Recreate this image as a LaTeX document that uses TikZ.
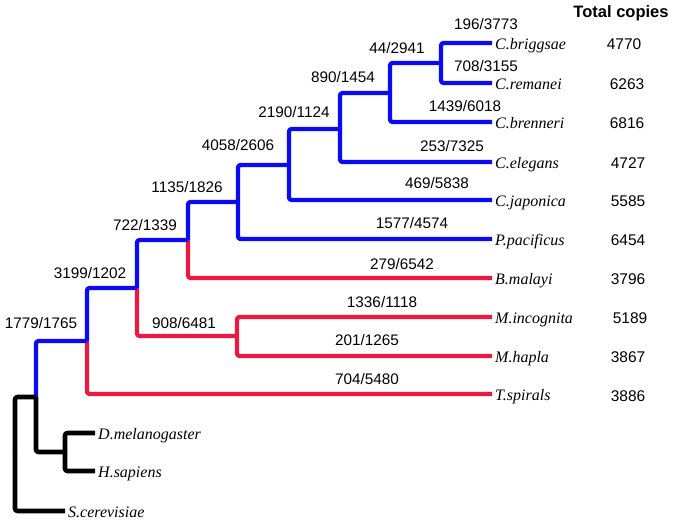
\documentclass[tikz,border=0pt]{standalone}
\usepackage{fontspec}
\newfontfamily\lsans{Liberation Sans}
\newfontfamily\lserif{Liberation Serif}
\definecolor{treeblue}{RGB}{10,10,245}
\definecolor{treered}{RGB}{235,25,65}
\definecolor{treeblack}{RGB}{0,0,0}
\tikzset{
  br/.style={line width=4.2pt, line join=round, rounded corners=2.5pt},
  bl/.style={br, draw=treeblue},
  rd/.style={br, draw=treered},
  bk/.style={br, draw=treeblack, line width=4.6pt},
  leaf/.style={anchor=base west, inner sep=0pt, font=\lserif\itshape\fontsize{16}{18}\selectfont},
  blab/.style={anchor=base, inner sep=0pt, font=\lsans\fontsize{15.3}{17}\selectfont},
  tot/.style={anchor=base, inner sep=0pt, font=\lsans\fontsize{15.5}{17}\selectfont},
  head/.style={anchor=base, inner sep=0pt, font=\lsans\bfseries\fontsize{16.5}{18}\selectfont}
}
\begin{document}
\begin{tikzpicture}[x=1pt,y=-1pt]
\useasboundingbox (0,0) rectangle (675,522);
% leaf ends
\coordinate (bri) at (492,43);
\coordinate (rem) at (492,83);
\coordinate (bren) at (492,122);
\coordinate (ele) at (492,162);
\coordinate (jap) at (492,200);
\coordinate (pac) at (492,239);
\coordinate (mal) at (492,278);
\coordinate (inc) at (492,317);
\coordinate (hap) at (492,356);
\coordinate (spi) at (492,394);
\coordinate (dmel) at (95,433);
\coordinate (hsap) at (95,471);
\coordinate (scer) at (65,511);
% internal nodes
\coordinate (n1) at (441,63);
\coordinate (n2) at (390,93);
\coordinate (n3) at (340,129);
\coordinate (n4) at (289,165);
\coordinate (n5) at (238,202);
\coordinate (n6) at (188,240);
\coordinate (m) at (237,336);
\coordinate (n7) at (137,288);
\coordinate (n8) at (87,341);
\coordinate (v) at (65,452);
\coordinate (n9) at (36,397);
\coordinate (root) at (15,454);
% branches
\draw[bl] (n1) |- (bri);
\draw[bl] (n1) |- (rem);
\draw[bl] (n2) |- (n1);
\draw[bl] (n2) |- (bren);
\draw[bl] (n3) |- (n2);
\draw[bl] (n3) |- (ele);
\draw[bl] (n4) |- (n3);
\draw[bl] (n4) |- (jap);
\draw[bl] (n5) |- (n4);
\draw[bl] (n5) |- (pac);
\draw[bl] (n6) |- (n5);
\draw[rd] (n6) |- (mal);
\draw[rd] (m) |- (inc);
\draw[rd] (m) |- (hap);
\draw[bl] (n7) |- (n6);
\draw[rd] (n7) |- (m);
\draw[bl] (n8) |- (n7);
\draw[rd] (n8) |- (spi);
\draw[bk] (v) |- (dmel);
\draw[bk] (v) |- (hsap);
\draw[bl] (n9) |- (n8);
\draw[bk] (n9) |- (v);
\draw[bk] (root) |- (n9);
\draw[bk] (root) |- (scer);
% leaf labels
\node[leaf] (lbri) at (495,49) {C.briggsae};
\node[leaf] (lrem) at (495,89) {C.remanei};
\node[leaf] (lbren) at (495,128) {C.brenneri};
\node[leaf] (lele) at (495,168) {C.elegans};
\node[leaf] (ljap) at (495,206) {C.japonica};
\node[leaf] (lpac) at (495,245) {P.pacificus};
\node[leaf] (lmal) at (495,284) {B.malayi};
\node[leaf] (linc) at (495,323) {M.incognita};
\node[leaf] (lhap) at (495,362) {M.hapla};
\node[leaf] (lspi) at (495,400) {T.spirals};
\node[leaf] (ldmel) at (98,439) {D.melanogaster};
\node[leaf] (lhsap) at (98,477) {H.sapiens};
\node[leaf] (lscer) at (68,517) {S.cerevisiae};
% branch labels
\node[blab] (b1) at (486,29.5) {196/3773};
\node[blab] (b2) at (397,53.5) {44/2941};
\node[blab] (b3) at (486,71.5) {708/3155};
\node[blab] (b4) at (343,82.5) {890/1454};
\node[blab] (b5) at (465,111.5) {1439/6018};
\node[blab] (b6) at (294,117.5) {2190/1124};
\node[blab] (b7) at (452,151.5) {253/7325};
\node[blab] (b8) at (238,150.5) {4058/2606};
\node[blab] (b9) at (437,188.5) {469/5838};
\node[blab] (b10) at (187,192.5) {1135/1826};
\node[blab] (b11) at (412,228.5) {1577/4574};
\node[blab] (b12) at (145,230.5) {722/1339};
\node[blab] (b13) at (402,269.5) {279/6542};
\node[blab] (b14) at (90,278.5) {3199/1202};
\node[blab] (b15) at (382,307.5) {1336/1118};
\node[blab] (b16) at (184,328.5) {908/6481};
\node[blab] (b17) at (41,328.5) {1779/1765};
\node[blab] (b18) at (367,345.5) {201/1265};
\node[blab] (b19) at (367,384.5) {704/5480};
% total copies
\node[head] (th) at (621,17) {Total copies};
\node[tot] (t1) at (624,49) {4770};
\node[tot] (t2) at (627,89) {6263};
\node[tot] (t3) at (627,128) {6816};
\node[tot] (t4) at (628,168) {4727};
\node[tot] (t5) at (628,206) {5585};
\node[tot] (t6) at (628,245) {6454};
\node[tot] (t7) at (628,284) {3796};
\node[tot] (t8) at (630,323) {5189};
\node[tot] (t9) at (628,362) {3867};
\node[tot] (t10) at (628,401) {3886};
\end{tikzpicture}
\end{document}
